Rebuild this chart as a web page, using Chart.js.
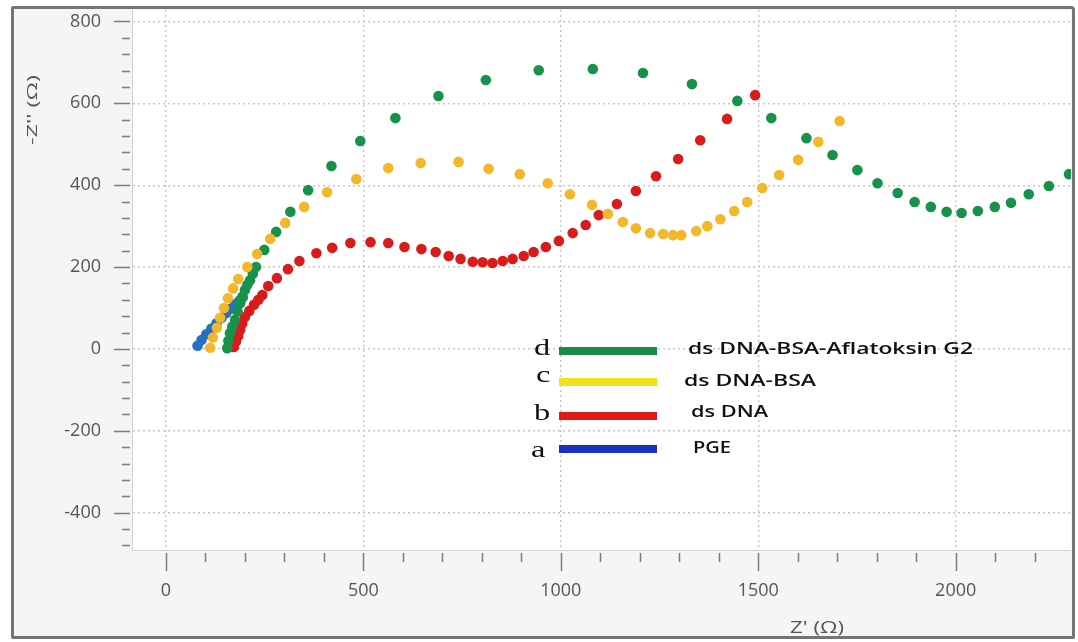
<!DOCTYPE html>
<html>
<head>
<meta charset="utf-8">
<title>Nyquist</title>
<script src="https://cdn.jsdelivr.net/npm/chart.js@4.4.1/dist/chart.umd.min.js"></script>
<style>
  html, body { margin: 0; padding: 0; background: #fff; }
  #wrap { position: relative; width: 1078px; height: 642px; }
  #frame {
    position: absolute; left: 11px; top: 6px; width: 1064px; height: 633px;
    box-sizing: border-box; border: 3px solid #747474; border-radius: 2px 4px 2px 2px;
    background: #f5f5f5;
  }
  #chart { position: absolute; left: 0; top: 0; }
</style>
</head>
<body>
<div id="wrap">
  <div id="frame"></div>
  <canvas id="chart" width="1078" height="642"></canvas>
</div>
<script>
/* ---------- Messwerte: Z' (Ω) / -Z'' (Ω) ---------- */

// a: PGE
const pgeX = [80, 90, 102, 115, 128, 141, 153, 165, 176, 186, 194];
const pgeY = [8, 22, 36, 50, 63, 76, 88, 99, 109, 118, 126];

// b: ds DNA
const dnaX = [172, 177, 183, 188, 193, 200, 211, 223, 234, 244, 259, 281, 309, 338, 381, 421, 467, 518,
  563, 604, 647, 683, 716, 746, 777, 802, 827, 853, 878, 906, 931, 962, 995, 1030, 1063, 1096,
  1142, 1190, 1241, 1297, 1353, 1421, 1492];
const dnaY = [5, 18, 32, 47, 62, 78, 93, 108, 120, 132, 154, 173, 195, 215, 234, 247, 259, 261,
  259, 249, 244, 237, 227, 220, 213, 212, 210, 215, 220, 227, 237, 249, 264, 283, 303, 327,
  354, 386, 422, 464, 510, 562, 620];

// c: ds DNA-BSA
const bsaX = [112, 119, 129, 137, 147, 157, 170, 183, 206, 231, 264, 302, 350, 408, 482, 563, 645, 741,
  817, 896, 967, 1023, 1079, 1119, 1157, 1190, 1226, 1259, 1284, 1305, 1343, 1371, 1404, 1439,
  1472, 1510, 1553, 1601, 1652, 1706];
const bsaY = [3, 28, 52, 76, 100, 124, 148, 171, 200, 232, 269, 308, 347, 383, 415, 442, 454, 457,
  440, 427, 405, 378, 352, 330, 310, 295, 283, 281, 278, 278, 288, 300, 317, 337,
  359, 393, 425, 462, 506, 557];

// d: ds DNA-BSA-Aflatoksin G2
const aflaX = [155, 158, 162, 168, 175, 181, 188, 194, 200, 206, 213, 220, 228, 249, 279, 315, 360, 419,
  492, 581, 690, 810, 944, 1081, 1208, 1332, 1447, 1533, 1622, 1688, 1751, 1802, 1853, 1896,
  1937, 1977, 2015, 2056, 2099, 2140, 2185, 2236, 2287];
const aflaY = [2, 20, 39, 55, 71, 92, 112, 128, 144, 156, 168, 184, 200, 242, 286, 335, 388, 447,
  508, 564, 618, 657, 681, 684, 674, 647, 606, 564, 515, 474, 437, 405, 381, 359,
  347, 335, 332, 337, 347, 357, 378, 398, 427];

// Legende (Buchstabe, Beschriftung)
const legendLetters = ["d", "c", "b", "a"];
const legendLabels = ["ds DNA-BSA-Aflatoksin G2", "ds DNA-BSA", "ds DNA", "PGE"];

// Achsen
const xMin = -86, xMax = 2292;
const yMin = -491, yMax = 828;
const xTickValues = [0, 500, 1000, 1500, 2000];
const yTickValues = [-400, -200, 0, 200, 400, 600, 800];

/* ---------- Hilfsfunktionen ---------- */

function toPoints(xs, ys) {
  return xs.map((x, i) => ({ x: x, y: ys[i] }));
}

// Text in Schreibrichtung auf eine Zielbreite strecken
function drawStretched(ctx, text, x, y, font, width, angle) {
  ctx.save();
  ctx.font = font;
  const w = ctx.measureText(text).width;
  ctx.translate(x, y);
  if (angle) ctx.rotate(angle);
  ctx.scale(width / w, 1);
  ctx.fillText(text, 0, 0);
  ctx.restore();
}

/* ---------- Plugins ---------- */

const plotBackground = {
  id: "plotBackground",
  beforeDraw(chart) {
    const { ctx, chartArea: a } = chart;
    ctx.save();
    ctx.fillStyle = "#ffffff";
    ctx.fillRect(a.left, a.top, a.right - a.left, a.bottom - a.top);
    ctx.restore();
  }
};

// Haupt- und Nebenstriche außen an den Achsen
const axisTicks = {
  id: "axisTicks",
  afterDraw(chart) {
    const { ctx, chartArea: a, scales: { x, y } } = chart;
    ctx.save();
    ctx.strokeStyle = "#7c7c7c";
    ctx.lineWidth = 1.5;
    ctx.beginPath();
    for (let v = 0; v <= xMax; v += 100) {
      const px = Math.round(x.getPixelForValue(v)) + 0.5;
      const len = v % 500 === 0 ? 18 : 9;
      ctx.moveTo(px, a.bottom + 3);
      ctx.lineTo(px, a.bottom + 3 + len);
    }
    for (let v = -480; v <= yMax; v += 40) {
      const py = Math.round(y.getPixelForValue(v)) + 0.5;
      const len = v % 200 === 0 ? 16 : 8;
      ctx.moveTo(a.left - 2, py);
      ctx.lineTo(a.left - 2 - len, py);
    }
    ctx.stroke();
    ctx.restore();
  }
};

const annotations = {
  id: "annotations",
  afterDraw(chart) {
    const ctx = chart.ctx;

    // Achsentitel
    ctx.save();
    ctx.fillStyle = "#555555";
    ctx.textBaseline = "middle";
    ctx.textAlign = "left";
    drawStretched(ctx, "Z' (\u03A9)", 790, 628, "16px 'Open Sans'", 54);
    drawStretched(ctx, "-Z'' (\u03A9)", 33, 145, "15px 'Open Sans'", 70, -Math.PI / 2);
    ctx.restore();

    // Legende
    const colors = ["#1b8a48", "#f2e21c", "#e01b1b", "#1530c2"];
    const barY = [351, 382, 416, 449];
    const letterBase = [355, 382, 420, 457];
    const letterX = [534, 536, 534, 531];
    const labelX = [688, 684, 691, 693];
    const labelBase = [354, 386, 417, 453];
    const labelW = [285, 132, 77, 38];

    ctx.save();
    ctx.lineWidth = 8;
    ctx.lineCap = "butt";
    legendLetters.forEach((l, i) => {
      ctx.strokeStyle = colors[i];
      ctx.beginPath();
      ctx.moveTo(559, barY[i]);
      ctx.lineTo(657, barY[i]);
      ctx.stroke();

      ctx.fillStyle = "#111111";
      ctx.textBaseline = "alphabetic";
      ctx.textAlign = "left";
      ctx.font = "24px 'Liberation Serif'";
      const lw = ctx.measureText(l).width * 1.35;
      drawStretched(ctx, l, letterX[i], letterBase[i], "24px 'Liberation Serif'", lw);
      drawStretched(ctx, legendLabels[i], labelX[i], labelBase[i], "600 17px 'Open Sans'", labelW[i]);
    });
    ctx.restore();
  }
};

/* ---------- Diagramm ---------- */

const tickFont = { family: "'Open Sans', sans-serif", size: 18 };

new Chart(document.getElementById("chart"), {
  type: "scatter",
  data: {
    datasets: [
      { label: legendLabels[1], data: toPoints(bsaX, bsaY), backgroundColor: "#f3b82a", borderColor: "#f3b82a" },
      { label: legendLabels[0], data: toPoints(aflaX, aflaY), backgroundColor: "#17924a", borderColor: "#17924a" },
      { label: legendLabels[2], data: toPoints(dnaX, dnaY), backgroundColor: "#d81b1b", borderColor: "#d81b1b" },
      { label: legendLabels[3], data: toPoints(pgeX, pgeY), backgroundColor: "#2770c0", borderColor: "#2770c0" }
    ]
  },
  options: {
    responsive: false,
    animation: false,
    layout: { padding: { top: 10, right: 7, left: 0, bottom: 0 } },
    elements: { point: { radius: 5.3, borderWidth: 0, hoverRadius: 5.3 } },
    plugins: {
      legend: { display: false },
      tooltip: { enabled: false }
    },
    scales: {
      x: {
        type: "linear",
        min: xMin,
        max: xMax,
        afterBuildTicks: (s) => { s.ticks = xTickValues.map(v => ({ value: v })); },
        afterFit: (s) => { s.height = 92; s.paddingLeft = 0; s.paddingRight = 0; },
        grid: { color: "#c6c6c6", lineWidth: 1.4, drawTicks: false },
        border: { display: true, color: "#d2d2d2", width: 1, dash: [2, 3] },
        ticks: { padding: 30, color: "#555555", font: tickFont, callback: (v) => String(v) }
      },
      y: {
        type: "linear",
        min: yMin,
        max: yMax,
        afterBuildTicks: (s) => { s.ticks = yTickValues.map(v => ({ value: v })); },
        afterFit: (s) => { s.width = 132; s.paddingTop = 0; s.paddingBottom = 0; },
        grid: { color: "#c6c6c6", lineWidth: 1.4, drawTicks: false },
        border: { display: true, color: "#d2d2d2", width: 1, dash: [2, 3] },
        ticks: { padding: 31, color: "#555555", font: tickFont, callback: (v) => String(v) }
      }
    }
  },
  plugins: [plotBackground, axisTicks, annotations]
});
</script>
</body>
</html>
